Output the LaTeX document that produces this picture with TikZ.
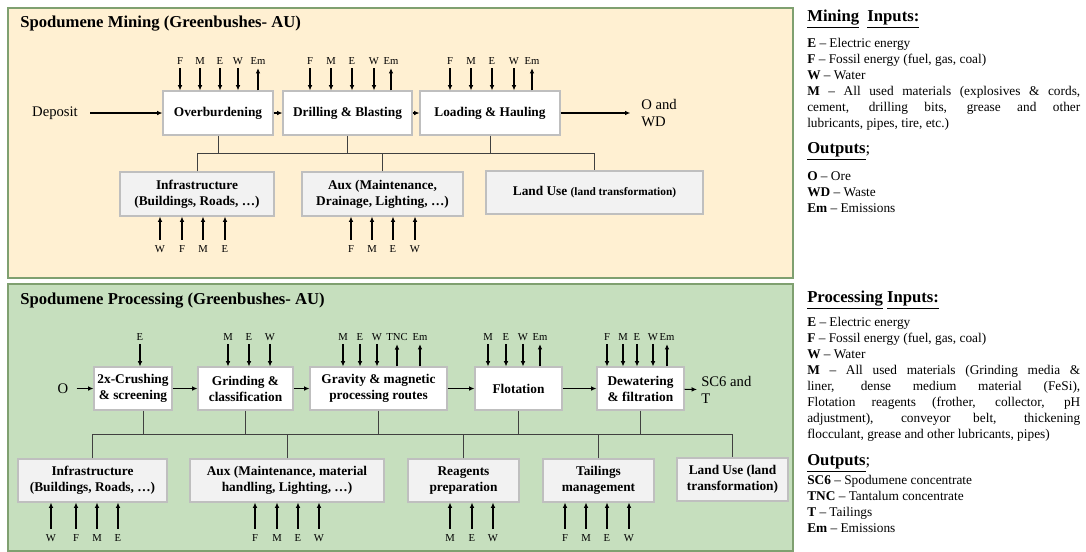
\documentclass[tikz,border=0pt]{standalone}
\usepackage{fontspec}
\setmainfont{Liberation Serif}
\usepackage{tikz}
\usetikzlibrary{arrows.meta}

\definecolor{minefill}{HTML}{FFF0D2}
\definecolor{procfill}{HTML}{C6DFBE}
\definecolor{panelline}{HTML}{7FA070}
\definecolor{boxline}{HTML}{BFBFBF}
\definecolor{subfill}{HTML}{F2F2F2}

\begin{document}
\begin{tikzpicture}[x=0.75pt,y=-0.75pt,
    mpanel/.style={draw=panelline,line width=1pt,fill=minefill},
    ppanel/.style={draw=panelline,line width=1pt,fill=procfill},
    title/.style={anchor=west,inner sep=0pt,font=\fontsize{12.5}{14}\selectfont\bfseries},
    mainbox/.style={draw=boxline,fill=white,line width=0.8pt,align=center,inner sep=2pt,font=\fontsize{10}{12}\selectfont\bfseries},
    subbox/.style={draw=boxline,fill=subfill,line width=0.8pt,align=center,inner sep=2pt,font=\fontsize{10}{12}\selectfont\bfseries},
    lbl/.style={inner sep=1pt,font=\fontsize{8}{9}\selectfont},
    txt/.style={inner sep=0pt,align=left,font=\fontsize{11}{12.75}\selectfont},
    flow/.style={-{Latex[length=4pt,width=3.5pt]},line width=0.8pt},
    feed/.style={-{Latex[length=4pt,width=3.5pt]},line width=0.9pt},
    bus/.style={draw=black!75,line width=0.6pt},
    legend/.style={anchor=north west,inner sep=0pt,text width=204.75pt,align=justify,font=\fontsize{10}{12}\selectfont}]
  \useasboundingbox (0,0) rectangle (1086,551);

  % Draw mining panel
  \draw[mpanel] (8,8) rectangle (793,278);
  \node[title] (mtitle) at (20,24) {Spodumene Mining (Greenbushes- AU)};

  % Mining chain
  \node[mainbox,minimum width=82.5pt,minimum height=33pt] (ov) at (218,113) {Overburdening};
  \node[mainbox,minimum width=96.75pt,minimum height=33pt] (dr) at (347.5,113) {Drilling \& Blasting};
  \node[mainbox,minimum width=105pt,minimum height=33pt] (ld) at (490,113) {Loading \& Hauling};
  \node[txt] (dep) at (55,113) {Deposit};
  \node[txt,anchor=west] (mout) at (641,113) {O and\\WD};
  \draw[flow,shorten <=9pt] (dep) -- (ov);
  \draw[flow] (ov) -- (dr);
  \draw[flow] (dr) -- (ld);
  \draw[flow,shorten >=8pt] (ld) -- (mout);

  % Mining auxiliary units
  \node[subbox,minimum width=115.5pt,minimum height=33pt] (minf) at (197,194) {Infrastructure\\(Buildings, Roads, \ldots)};
  \node[subbox,minimum width=120.75pt,minimum height=33pt] (maux) at (382.5,194) {Aux (Maintenance,\\Drainage, Lighting, \ldots)};
  \node[subbox,minimum width=162.75pt,minimum height=32.25pt] (mland) at (594.5,192.5) {Land Use {\fontsize{8.5}{10}\selectfont (land transformation)}};

  % Mining bus
  \coordinate (mbus) at (0,153);
  \foreach \b in {ov,dr,ld}
    \draw[bus] (\b.south) -- (\b.south |- mbus);
  \draw[bus] (minf.north) |- (mland.north |- mbus) -- (mland.north);
  \draw[bus] (maux.north) -- (maux.north |- mbus);

  % Mining inputs and emissions
  \foreach \b/\i/\x/\t in {ov/1/180/F,ov/2/200/M,ov/3/220/E,ov/4/238/W,
      dr/1/310/F,dr/2/331/M,dr/3/352/E,dr/4/374/W,
      ld/1/450/F,ld/2/471/M,ld/3/492/E,ld/4/514/W}{
    \node[lbl] (\b\i) at (\x,61) {\t};
    \draw[feed,shorten <=1.5pt] (\b\i) -- (\b\i |- \b.north);
  }
  \foreach \b/\x in {ov/258,dr/391,ld/532}{
    \node[lbl] (em\b) at (\x,61) {Em};
    \draw[feed,shorten >=1.5pt] (em\b |- \b.north) -- (em\b);
  }
  \foreach \b/\i/\x/\t in {minf/1/160/W,minf/2/182/F,minf/3/203/M,minf/4/225/E,
      maux/1/351/F,maux/2/372/M,maux/3/393/E,maux/4/415/W}{
    \node[lbl] (\b\i) at (\x,249) {\t};
    \draw[feed,shorten <=3pt] (\b\i) -- (\b\i |- \b.south);
  }

  % Draw processing panel
  \draw[ppanel] (8,284) rectangle (793,551);
  \node[title] (ptitle) at (20,301) {Spodumene Processing (Greenbushes- AU)};

  % Processing chain
  \node[mainbox,minimum width=58.5pt,minimum height=32.25pt] (cr) at (133,388.5) {2x-Crushing\\\& screening};
  \node[mainbox,minimum width=71.25pt,minimum height=32.25pt] (gr) at (245.5,388.5) {Grinding \&\\classification};
  \node[mainbox,minimum width=102.75pt,minimum height=32.25pt] (gv) at (378.5,388.5) {Gravity \& magnetic\\processing routes};
  \node[mainbox,minimum width=65.25pt,minimum height=32.25pt] (fl) at (518.5,388.5) {Flotation};
  \node[mainbox,minimum width=65.25pt,minimum height=32.25pt] (dw) at (640.5,388.5) {Dewatering\\\& filtration};
  \node[txt] (ore) at (63,388.5) {O};
  \node[txt,anchor=west] (pout) at (701,390) {SC6 and\\T};
  \draw[flow,shorten <=6pt] (ore) -- (cr);
  \draw[flow] (cr) -- (gr);
  \draw[flow] (gr) -- (gv);
  \draw[flow] (gv) -- (fl);
  \draw[flow] (fl) -- (dw);
  \draw[flow,shorten >=3pt] (dw) -- (pout);

  % Processing auxiliary units
  \node[subbox,minimum width=111.75pt,minimum height=32.25pt] (pinf) at (92.5,480.5) {Infrastructure\\(Buildings, Roads, \ldots)};
  \node[subbox,minimum width=145.5pt,minimum height=32.25pt] (paux) at (287,480.5) {Aux (Maintenance, material\\handling, Lighting, \ldots)};
  \node[subbox,minimum width=83.25pt,minimum height=32.25pt] (reag) at (463.5,480.5) {Reagents\\preparation};
  \node[subbox,minimum width=83.25pt,minimum height=32.25pt] (tail) at (598.5,480.5) {Tailings\\management};
  \node[subbox,minimum width=83.25pt,minimum height=32.25pt] (pland) at (732.5,479.5) {Land Use (land\\transformation)};

  % Processing bus
  \coordinate (pbus) at (0,434);
  \draw[bus] ([xshift=7.5pt]cr.south) -- +(0,24);
  \foreach \b in {gr,gv,fl,dw}
    \draw[bus] (\b.south) -- (\b.south |- pbus);
  \draw[bus] (pinf.north) |- (pland.north |- pbus) -- (pland.north);
  \foreach \b in {paux,reag,tail}
    \draw[bus] (\b.north) -- (\b.north |- pbus);

  % Processing inputs and outputs
  \foreach \b/\i/\x/\t in {cr/1/140/E,
      gr/1/228/M,gr/2/249/E,gr/3/270/W,
      gv/1/343/M,gv/2/360/E,gv/3/377/W,
      fl/1/488/M,fl/2/506/E,fl/3/523/W,
      dw/1/607/F,dw/2/623/M,dw/3/637/E,dw/4/653/W}{
    \node[lbl] (\b\i) at (\x,337) {\t};
    \draw[feed,shorten <=1.5pt] (\b\i) -- (\b\i |- \b.north);
  }
  \foreach \b/\i/\x/\t in {gv/a/397/TNC,gv/b/420/Em,fl/a/540/Em,dw/a/667/Em}{
    \node[lbl] (\b\i) at (\x,337) {\t};
    \draw[feed,shorten >=1.5pt] (\b\i |- \b.north) -- (\b\i);
  }
  \foreach \b/\i/\x/\t in {pinf/1/51/W,pinf/2/76/F,pinf/3/97/M,pinf/4/118/E,
      paux/1/255/F,paux/2/277/M,paux/3/298/E,paux/4/319/W,
      reag/1/450/M,reag/2/472/E,reag/3/493/W,
      tail/1/565/F,tail/2/586/M,tail/3/607/E,tail/4/629/W}{
    \node[lbl] (\b\i) at (\x,538) {\t};
    \draw[feed,shorten <=3pt] (\b\i) -- (\b\i |- \b.south);
  }

  % Legends
  \node[legend] (mleg) at (807,10) {%
    {\fontsize{12.5}{14}\selectfont\bfseries\underline{Mining}\ \ \underline{Inputs:}\par}\vspace{7pt}
    \textbf{E} -- Electric energy\par
    \textbf{F} -- Fossil energy (fuel, gas, coal)\par
    \textbf{W} -- Water\par
    \textbf{M} -- All used materials (explosives \& cords,\linebreak cement, drilling bits, grease and other\linebreak lubricants, pipes, tire, etc.)\par\vspace{6pt}
    {\fontsize{12.5}{14}\selectfont\underline{\textbf{Outputs}};\par}\vspace{8pt}
    \textbf{O} -- Ore\par
    \textbf{WD} -- Waste\par
    \textbf{Em} -- Emissions\par};
  \node[legend] (pleg) at (807,291) {%
    {\fontsize{12.5}{14}\selectfont\bfseries\underline{Processing}\ \underline{Inputs:}\par}\vspace{5.5pt}
    \textbf{E} -- Electric energy\par
    \textbf{F} -- Fossil energy (fuel, gas, coal)\par
    \textbf{W} -- Water\par
    \textbf{M} -- All used materials (Grinding media \&\linebreak liner, dense medium material (FeSi),\linebreak Flotation reagents (frother, collector, pH\linebreak adjustment), conveyor belt, thickening\linebreak flocculant, grease and other lubricants, pipes)\par\vspace{6.5pt}
    {\fontsize{12.5}{14}\selectfont\underline{\textbf{Outputs}};\par}\vspace{2pt}
    \textbf{SC6} -- Spodumene concentrate\par
    \textbf{TNC} -- Tantalum concentrate\par
    \textbf{T} -- Tailings\par
    \textbf{Em} -- Emissions\par};
\end{tikzpicture}
\end{document}
